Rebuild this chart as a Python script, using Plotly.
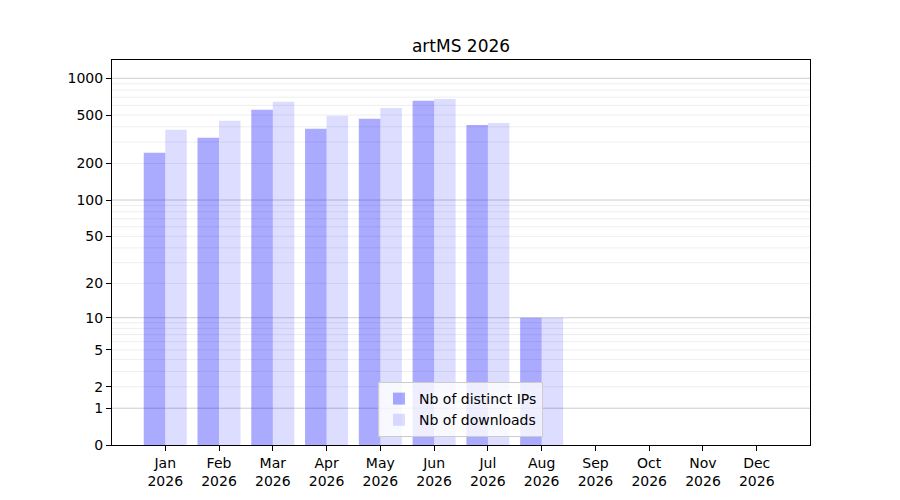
import numpy as np
import plotly.graph_objs as go

# monthly stats
months = ["Jan", "Feb", "Mar", "Apr", "May", "Jun", "Jul", "Aug", "Sep", "Oct", "Nov", "Dec"]
year = "2026"
distinct_ips = [245, 325, 551, 385, 465, 653, 415, 10, 0, 0, 0, 0]
downloads = [378, 448, 641, 492, 572, 678, 431, 10, 0, 0, 0, 0]
tick_labels = [0, 1, 2, 5, 10, 20, 50, 100, 200, 500, 1000]


def tr(v):
    # symlog-like axis: log10(1 + x)
    return np.log10(1 + np.asarray(v, dtype=float))


x_labels = [m + "<br>" + year for m in months]
major_vals = [1, 10, 100, 1000]
minor_vals = [m * 10**k for k in range(3) for m in range(2, 10)]

fig = go.Figure()
fig.add_trace(
    go.Bar(
        x=x_labels,
        y=tr(distinct_ips),
        name="Nb of distinct IPs",
        marker=dict(color="rgba(0,0,255,0.333)", line=dict(width=0)),
    )
)
fig.add_trace(
    go.Bar(
        x=x_labels,
        y=tr(downloads),
        name="Nb of downloads",
        marker=dict(color="rgba(0,0,255,0.133)", line=dict(width=0)),
    )
)

# the page puts the figure 8px in from the top-left, so margins are shifted
fig.update_layout(
    width=900,
    height=500,
    template=None,
    paper_bgcolor="white",
    plot_bgcolor="white",
    font=dict(family="DejaVu Sans", size=14, color="black"),
    margin=dict(l=104, r=98, t=52, b=63),
    barmode="group",
    bargap=0.2,
    bargroupgap=0,
    title=dict(
        text="artMS 2026",
        x=453 / 900,
        xanchor="center",
        y=1 - 38 / 500,
        yanchor="middle",
        font=dict(size=17),
    ),
    xaxis=dict(
        range=[-0.99, 11.99],
        showgrid=False,
        showline=True,
        linecolor="black",
        linewidth=1,
        mirror=True,
        ticks="outside",
        ticklen=5,
        tickcolor="black",
        tickfont=dict(size=14),
    ),
    yaxis=dict(
        range=[0, 3.150],
        tickvals=tr(tick_labels),
        ticktext=[str(t) for t in tick_labels],
        showgrid=False,
        zeroline=False,
        showline=True,
        linecolor="black",
        linewidth=1,
        mirror=True,
        ticks="outside",
        ticklen=5,
        tickcolor="black",
        tickfont=dict(size=14),
    ),
    legend=dict(
        x=(378 - 112) / 698,
        y=(445 - 437) / 385,
        xanchor="left",
        yanchor="bottom",
        bgcolor="rgba(255,255,255,0.8)",
        bordercolor="#cccccc",
        borderwidth=1,
        font=dict(size=14),
    ),
)

# grid lines: decades darker, in-between values lighter
for v in minor_vals:
    fig.add_hline(y=float(tr(v)), line=dict(color="rgba(0,0,0,0.07)", width=1), layer="below")
for v in major_vals:
    fig.add_hline(y=float(tr(v)), line=dict(color="rgba(0,0,0,0.2)", width=1), layer="below")

fig.write_html("out.html")
